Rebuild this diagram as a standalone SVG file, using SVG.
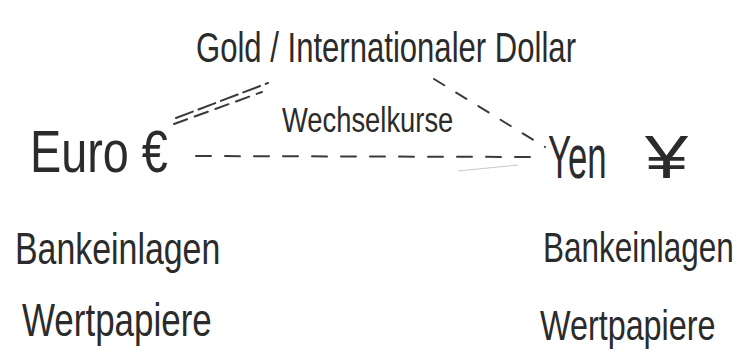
<svg xmlns="http://www.w3.org/2000/svg" width="748" height="363" viewBox="0 0 748 363">
  <style>
    .hand { font-family: "Liberation Sans", "DejaVu Sans", sans-serif; fill: #2b2b2b; }
    .dash { stroke: #3a3a3a; stroke-width: 2; fill: none; stroke-linecap: round; }
    .faint { stroke: #c8c8c8; stroke-width: 1; fill: none; }
  </style>
  <rect width="748" height="363" fill="#ffffff"/>

  <!-- connectors between the currencies and the anchor -->
  <g id="connectors">
    <!-- euro to gold / dollar: double dashed stroke -->
    <path class="dash" d="M176 118 L268 83" stroke-dasharray="18 6"/>
    <path class="dash" d="M174 124 L262 92" stroke-dasharray="14 8" stroke-width="1.5"/>
    <!-- gold / dollar to yen -->
    <path class="dash" d="M434 79 L545 147" stroke-dasharray="12 14"/>
    <!-- euro to yen: exchange rates -->
    <path class="dash" d="M196 156 L540 157" stroke-dasharray="15 14"/>
    <path class="faint" d="M458 171 L518 165"/>
  </g>

  <!-- labels are set in a horizontally condensed face via scale() -->
  <g id="anchor">
    <text class="hand" font-size="42" transform="translate(196 62) scale(0.74 1)">Gold / Internationaler Dollar</text>
  </g>

  <g id="rates">
    <text class="hand" font-size="36" transform="translate(282 132) scale(0.76 1)">Wechselkurse</text>
  </g>

  <g id="euro">
    <text class="hand" font-size="60" transform="translate(30 172) scale(0.78 1)">Euro €</text>
    <text class="hand" font-size="44" transform="translate(15 264) scale(0.77 1)">Bankeinlagen</text>
    <text class="hand" font-size="46" transform="translate(22 336) scale(0.76 1)">Wertpapiere</text>
  </g>

  <g id="yen">
    <text class="hand" font-size="62" transform="translate(548 178) scale(0.56 1)">Yen</text>
    <text class="hand" font-size="62" transform="translate(645 178) scale(1.25 1)">¥</text>
    <text class="hand" font-size="42" transform="translate(543 262) scale(0.75 1)">Bankeinlagen</text>
    <text class="hand" font-size="42" transform="translate(540 340) scale(0.77 1)">Wertpapiere</text>
  </g>
</svg>
